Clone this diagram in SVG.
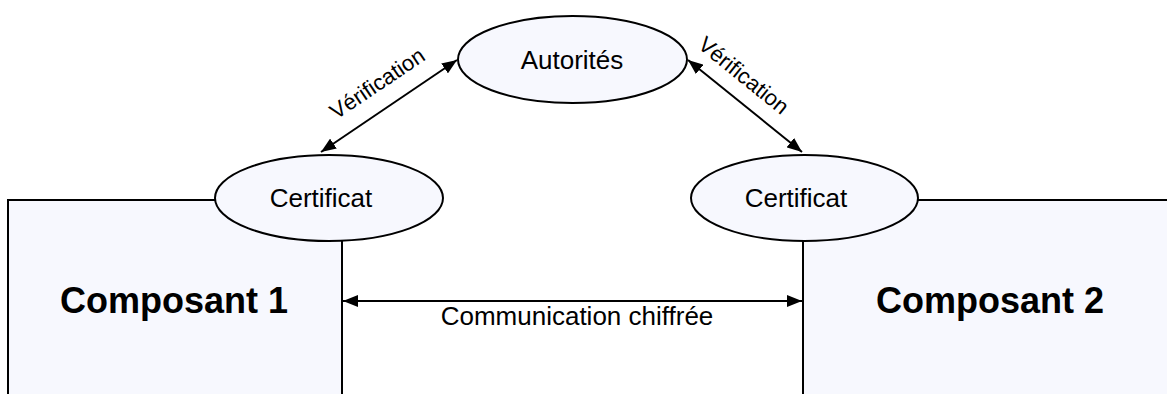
<svg xmlns="http://www.w3.org/2000/svg" width="1167" height="394" viewBox="0 0 1167 394">
<defs>
<style>
.box{fill:#f7f8fe;stroke:#000;stroke-width:2}
.ell{fill:#f7f8fe;stroke:#000;stroke-width:2}
.lbl{font-family:"Liberation Sans",Arial,sans-serif;font-size:26px;fill:#000;text-anchor:middle}
.big{font-family:"Liberation Sans",Arial,sans-serif;font-size:36px;font-weight:bold;fill:#000;text-anchor:middle}
.edge{font-family:"Liberation Sans",Arial,sans-serif;font-size:22px;fill:#000;text-anchor:middle}
.con{stroke:#000;stroke-width:2;fill:none;marker-start:url(#ah);marker-end:url(#ah)}
</style>
<marker id="ah" viewBox="0 0 15 12" refX="15" refY="6" markerWidth="15" markerHeight="12" markerUnits="userSpaceOnUse" orient="auto-start-reverse">
<path d="M0,0 L15,6 L0,12 Z" fill="#000"/>
</marker>
</defs>
<rect width="1167" height="394" fill="#fff"/>
<g id="composant1">
<rect class="box" x="8" y="200" width="334" height="220"/>
<text class="big" x="174" y="313">Composant 1</text>
</g>
<g id="composant2">
<rect class="box" x="803" y="200" width="380" height="220"/>
<text class="big" x="990" y="313">Composant 2</text>
</g>
<g id="certificat1">
<ellipse class="ell" cx="329" cy="198" rx="114" ry="43"/>
<text class="lbl" x="321" y="207">Certificat</text>
</g>
<g id="certificat2">
<ellipse class="ell" cx="804.5" cy="198" rx="113.5" ry="43"/>
<text class="lbl" x="796" y="207">Certificat</text>
</g>
<g id="autorites">
<ellipse class="ell" cx="572.5" cy="59.5" rx="114.5" ry="43.5"/>
<text class="lbl" x="572" y="69">Autorités</text>
</g>
<g id="connectors">
<line class="con" x1="321" y1="152" x2="457" y2="60"/>
<line class="con" x1="688" y1="60" x2="802" y2="152"/>
<line class="con" x1="343" y1="301" x2="802" y2="301"/>
<text class="edge" transform="translate(377,83) rotate(-34)" x="0" y="8">Vérification</text>
<text class="edge" transform="translate(744,75) rotate(39)" x="0" y="8">Vérification</text>
<text class="lbl" x="577" y="325">Communication chiffrée</text>
</g>
</svg>
